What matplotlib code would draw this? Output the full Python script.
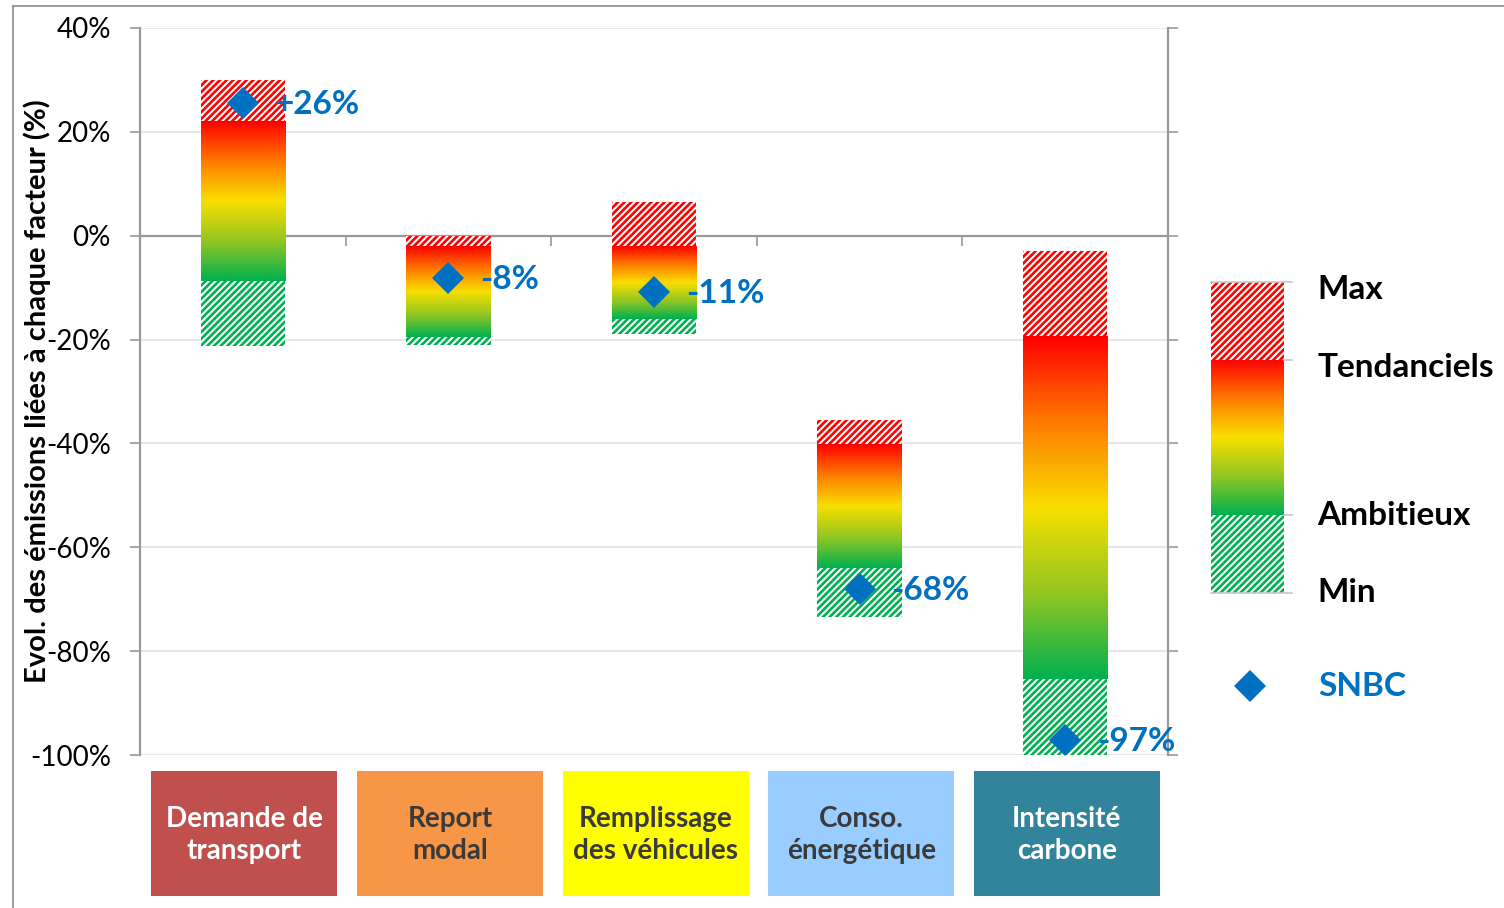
import matplotlib

matplotlib.use("Agg")
import matplotlib.pyplot as plt
import matplotlib.transforms as mtransforms
from matplotlib.colors import LinearSegmentedColormap
from matplotlib.lines import Line2D
from matplotlib.patches import Rectangle
import numpy as np

plt.rcParams["font.family"] = ["Lato", "DejaVu Sans"]
plt.rcParams["hatch.linewidth"] = 1.9

# data (values in %)
CATEGORIES = [
    "Demande de\ntransport",
    "Report\nmodal",
    "Remplissage\ndes véhicules",
    "Conso.\nénergétique",
    "Intensité\ncarbone",
]
MAX_VALS = [30.0, 0.0, 6.5, -35.4, -3.0]
TEND_VALS = [22.0, -2.0, -2.0, -40.3, -19.4]
AMBI_VALS = [-8.7, -19.5, -16.0, -64.0, -85.4]
MIN_VALS = [-21.3, -21.1, -18.9, -73.4, -100.0]
SNBC_VALS = [25.6, -8.1, -10.8, -68.0, -97.1]
SNBC_LABELS = ["+26%", "-8%", "-11%", "-68%", "-97%"]
Y_TICKS = [40, 20, 0, -20, -40, -60, -80, -100]

CAT_COLORS = ["#C0504D", "#F79646", "#FFFF00", "#99CCFF", "#31849B"]
CAT_TEXT_COLORS = ["white", "#3A3A3A", "#3A3A3A", "#3A3A3A", "white"]

LEGEND_LEVELS = {"Max": 4.0, "Tendanciels": 3.0, "Ambitieux": 1.0, "Min": 0.0}

GRADIENT = ["#FF0000", "#FF7A00", "#F8DF00", "#93C622", "#00B050"]
RED = "#FF0000"
GREEN = "#00B050"
BLUE = "#0070C0"
AXIS_GREY = "#999999"
GRID = "#E8E8E8"
HATCH = "/////"

cmap = LinearSegmentedColormap.from_list("evol", GRADIENT)
grad = np.linspace(0, 1, 256).reshape(-1, 1)

fig = plt.figure(figsize=(15.04, 9.08), dpi=100)
fig.patch.set_facecolor("white")
ax = fig.add_axes([140 / 1504, 1 - 755 / 908, (1168 - 140) / 1504, (755 - 28) / 908])

x = np.arange(len(CATEGORIES)) + 0.5
w = 0.41

for i, xc in enumerate(x):
    # hatched max part
    ax.bar(xc, MAX_VALS[i] - TEND_VALS[i], bottom=TEND_VALS[i], width=w,
           color="white", edgecolor=RED, hatch=HATCH, linewidth=0, zorder=3)
    # gradient part
    ax.imshow(grad, extent=[xc - w / 2, xc + w / 2, AMBI_VALS[i], TEND_VALS[i]],
              cmap=cmap, aspect="auto", interpolation="bilinear", zorder=3)
    # hatched min part
    ax.bar(xc, AMBI_VALS[i] - MIN_VALS[i], bottom=MIN_VALS[i], width=w,
           color="white", edgecolor=GREEN, hatch=HATCH, linewidth=0, zorder=3)

ax.plot(x, SNBC_VALS, linestyle="none", marker="D", markersize=16,
        color=BLUE, markeredgewidth=0, zorder=5)
for xc, v, lab in zip(x, SNBC_VALS, SNBC_LABELS):
    ax.annotate(lab, xy=(xc, v), xytext=(23, -1), textcoords="offset points",
                color=BLUE, fontsize=24, fontweight="bold", va="center", ha="left",
                zorder=6, annotation_clip=False)

ax.set_xlim(0, len(CATEGORIES))
ax.set_ylim(-100, 40)
ax.set_aspect("auto")

ax.set_yticks(Y_TICKS)
ax.set_yticklabels([f"{t}%" for t in Y_TICKS])
ax.yaxis.grid(True, color=GRID, linewidth=1.5, zorder=0)
ax.set_axisbelow(True)
ax.tick_params(axis="y", which="both", left=True, right=True, direction="out",
               length=7, width=1.2, color=AXIS_GREY, labelsize=20, pad=14)

ax.spines["top"].set_visible(False)
ax.spines["bottom"].set_position(("data", 0))
for side in ("left", "right", "bottom"):
    ax.spines[side].set_color(AXIS_GREY)
    ax.spines[side].set_linewidth(1.6)
ax.set_xticks([1, 2, 3, 4])
ax.set_xticklabels([])
ax.tick_params(axis="x", direction="out", length=7, width=1.2, color=AXIS_GREY)

ax.set_ylabel("Evol. des émissions liées à chaque facteur (%)", fontsize=21,
              fontweight="bold", color="black")
ax.yaxis.set_label_coords(-0.087, 0.5)

# category boxes under the plot
trans = mtransforms.blended_transform_factory(ax.transData, fig.transFigure)
box_w = 0.905
y0 = 1 - 896 / 908
y1 = 1 - 771 / 908
for xc, name, fc, tc in zip(x, CATEGORIES, CAT_COLORS, CAT_TEXT_COLORS):
    ax.add_patch(Rectangle((xc - box_w / 2 + 0.008, y0), box_w, y1 - y0, transform=trans,
                           facecolor=fc, edgecolor="none", clip_on=False))
    ax.text(xc + 0.008, (y0 + y1) / 2 - 0.002, name, transform=trans, ha="center",
            va="center", color=tc, fontsize=20, fontweight="bold", linespacing=1.3)

# custom legend
leg = fig.add_axes([1211 / 1504, 1 - 593 / 908, (1284 - 1211) / 1504, (593 - 282) / 908])
leg.axis("off")
lv = LEGEND_LEVELS
leg.bar(0.5, lv["Max"] - lv["Tendanciels"], bottom=lv["Tendanciels"], width=1,
        color="white", edgecolor=RED, hatch=HATCH, linewidth=0)
leg.imshow(grad, extent=[0, 1, lv["Ambitieux"], lv["Tendanciels"]], cmap=cmap,
           aspect="auto", interpolation="bilinear")
leg.bar(0.5, lv["Ambitieux"] - lv["Min"], bottom=lv["Min"], width=1,
        color="white", edgecolor=GREEN, hatch=HATCH, linewidth=0)
leg.set_xlim(0, 1)
leg.set_ylim(0, 4)
for name, val in lv.items():
    x_start = 0 if name in ("Max", "Min") else 1
    leg.plot([x_start, 1.11], [val, val], color="#C8C8C8", lw=1.2, clip_on=False)
label_offsets = {"Max": -0.1, "Tendanciels": -0.1, "Ambitieux": 0.0, "Min": 0.0}
for name, val in lv.items():
    leg.text(1.46, val + label_offsets[name], name, fontsize=24, fontweight="bold",
             color="black", va="center", ha="left", clip_on=False)

fig.add_artist(Line2D([1250 / 1504], [1 - 686 / 908], marker="D", markersize=16,
                      color=BLUE, markeredgewidth=0, linestyle="none",
                      transform=fig.transFigure))
fig.text(1318 / 1504, 1 - 686 / 908, "SNBC", fontsize=24, fontweight="bold",
         color=BLUE, va="center", ha="left")

# outer frame
fig.add_artist(Line2D([13 / 1504, 1], [1 - 6 / 908] * 2, transform=fig.transFigure,
                      color="#8C8C8C", lw=1.2))
fig.add_artist(Line2D([13 / 1504] * 2, [0, 1 - 6 / 908], transform=fig.transFigure,
                      color="#8C8C8C", lw=1.2))

fig.savefig("out.png", dpi=100, facecolor="white")
